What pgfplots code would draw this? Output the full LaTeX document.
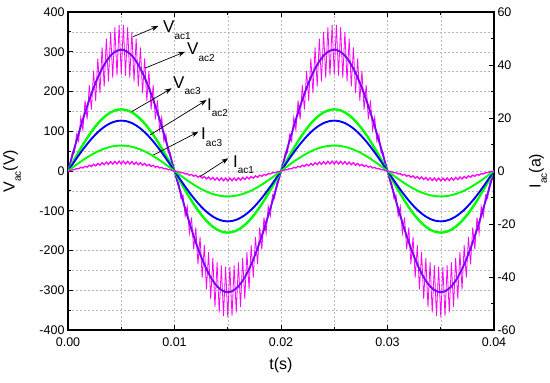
\documentclass[border=0pt]{standalone}
\usepackage{pgfplots}
\pgfplotsset{compat=1.18}
\usepackage{pgfplotstable}
\usepackage{fontspec}
\setmainfont{Liberation Sans}
\usetikzlibrary{arrows.meta}

\definecolor{vmag}{RGB}{255,0,255}
\definecolor{vpur}{RGB}{128,0,255}
\definecolor{vblue}{RGB}{0,0,255}
\definecolor{vgreen}{RGB}{0,255,0}

\pgfplotstableread{
t vac2 vac3 iac2 iac3
0.0000 0 0 0 0
0.0005 47.7 24.2 2.97 1.50
0.0010 94.2 47.9 5.87 2.97
0.0015 138.5 70.4 8.63 4.36
0.0020 179.3 91.1 11.17 5.64
0.0025 215.7 109.6 13.43 6.79
0.0030 246.7 125.4 15.37 7.77
0.0035 271.8 138.1 16.93 8.55
0.0040 290.1 147.4 18.07 9.13
0.0045 301.2 153.1 18.77 9.48
0.0050 305 155 19 9.6
0.0055 301.2 153.1 18.77 9.48
0.0060 290.1 147.4 18.07 9.13
0.0065 271.8 138.1 16.93 8.55
0.0070 246.7 125.4 15.37 7.77
0.0075 215.7 109.6 13.43 6.79
0.0080 179.3 91.1 11.17 5.64
0.0085 138.5 70.4 8.63 4.36
0.0090 94.2 47.9 5.87 2.97
0.0095 47.7 24.2 2.97 1.50
0.0100 0 0 0 0
0.0105 -47.7 -24.2 -2.97 -1.50
0.0110 -94.2 -47.9 -5.87 -2.97
0.0115 -138.5 -70.4 -8.63 -4.36
0.0120 -179.3 -91.1 -11.17 -5.64
0.0125 -215.7 -109.6 -13.43 -6.79
0.0130 -246.7 -125.4 -15.37 -7.77
0.0135 -271.8 -138.1 -16.93 -8.55
0.0140 -290.1 -147.4 -18.07 -9.13
0.0145 -301.2 -153.1 -18.77 -9.48
0.0150 -305 -155 -19 -9.6
0.0155 -301.2 -153.1 -18.77 -9.48
0.0160 -290.1 -147.4 -18.07 -9.13
0.0165 -271.8 -138.1 -16.93 -8.55
0.0170 -246.7 -125.4 -15.37 -7.77
0.0175 -215.7 -109.6 -13.43 -6.79
0.0180 -179.3 -91.1 -11.17 -5.64
0.0185 -138.5 -70.4 -8.63 -4.36
0.0190 -94.2 -47.9 -5.87 -2.97
0.0195 -47.7 -24.2 -2.97 -1.50
0.0200 0 0 0 0
0.0205 47.7 24.2 2.97 1.50
0.0210 94.2 47.9 5.87 2.97
0.0215 138.5 70.4 8.63 4.36
0.0220 179.3 91.1 11.17 5.64
0.0225 215.7 109.6 13.43 6.79
0.0230 246.7 125.4 15.37 7.77
0.0235 271.8 138.1 16.93 8.55
0.0240 290.1 147.4 18.07 9.13
0.0245 301.2 153.1 18.77 9.48
0.0250 305 155 19 9.6
0.0255 301.2 153.1 18.77 9.48
0.0260 290.1 147.4 18.07 9.13
0.0265 271.8 138.1 16.93 8.55
0.0270 246.7 125.4 15.37 7.77
0.0275 215.7 109.6 13.43 6.79
0.0280 179.3 91.1 11.17 5.64
0.0285 138.5 70.4 8.63 4.36
0.0290 94.2 47.9 5.87 2.97
0.0295 47.7 24.2 2.97 1.50
0.0300 0 0 0 0
0.0305 -47.7 -24.2 -2.97 -1.50
0.0310 -94.2 -47.9 -5.87 -2.97
0.0315 -138.5 -70.4 -8.63 -4.36
0.0320 -179.3 -91.1 -11.17 -5.64
0.0325 -215.7 -109.6 -13.43 -6.79
0.0330 -246.7 -125.4 -15.37 -7.77
0.0335 -271.8 -138.1 -16.93 -8.55
0.0340 -290.1 -147.4 -18.07 -9.13
0.0345 -301.2 -153.1 -18.77 -9.48
0.0350 -305 -155 -19 -9.6
0.0355 -301.2 -153.1 -18.77 -9.48
0.0360 -290.1 -147.4 -18.07 -9.13
0.0365 -271.8 -138.1 -16.93 -8.55
0.0370 -246.7 -125.4 -15.37 -7.77
0.0375 -215.7 -109.6 -13.43 -6.79
0.0380 -179.3 -91.1 -11.17 -5.64
0.0385 -138.5 -70.4 -8.63 -4.36
0.0390 -94.2 -47.9 -5.87 -2.97
0.0395 -47.7 -24.2 -2.97 -1.50
0.0400 0 0 0 0
}\smoothtab

\pgfplotstableread{
t vac1 iac1
0.0000 0 0
0.0002 15.2 0.17
0.0004 46.1 0.46
0.0006 45.4 0.51
0.0008 91.5 0.92
0.0010 74.8 0.83
0.0012 135.5 1.36
0.0014 103.0 1.15
0.0016 177.3 1.78
0.0018 129.7 1.45
0.0020 216.3 2.17
0.0022 154.3 1.72
0.0024 251.9 2.53
0.0026 176.4 1.97
0.0028 283.5 2.85
0.0030 195.8 2.18
0.0032 310.7 3.12
0.0034 212.1 2.37
0.0036 333.0 3.35
0.0038 225.0 2.51
0.0040 350.0 3.52
0.0042 234.4 2.62
0.0044 361.5 3.63
0.0046 240.1 2.68
0.0048 367.3 3.69
0.0050 242.0 2.70
0.0052 367.3 3.69
0.0054 240.1 2.68
0.0056 361.5 3.63
0.0058 234.4 2.62
0.0060 350.0 3.52
0.0062 225.0 2.51
0.0064 333.0 3.35
0.0066 212.1 2.37
0.0068 310.7 3.12
0.0070 195.8 2.18
0.0072 283.5 2.85
0.0074 176.4 1.97
0.0076 251.9 2.53
0.0078 154.3 1.72
0.0080 216.3 2.17
0.0082 129.7 1.45
0.0084 177.3 1.78
0.0086 103.0 1.15
0.0088 135.5 1.36
0.0090 74.8 0.83
0.0092 91.5 0.92
0.0094 45.4 0.51
0.0096 46.1 0.46
0.0098 15.2 0.17
0.0100 0 0
0.0102 -23.1 -0.23
0.0104 -30.3 -0.34
0.0106 -69.0 -0.69
0.0108 -60.2 -0.67
0.0110 -113.7 -1.14
0.0112 -89.1 -0.99
0.0114 -156.7 -1.58
0.0116 -116.6 -1.30
0.0118 -197.2 -1.98
0.0120 -142.2 -1.59
0.0122 -234.6 -2.36
0.0124 -165.6 -1.85
0.0126 -268.3 -2.70
0.0128 -186.5 -2.08
0.0130 -297.7 -2.99
0.0132 -204.3 -2.28
0.0134 -322.5 -3.24
0.0136 -219.0 -2.44
0.0138 -342.2 -3.44
0.0140 -230.2 -2.57
0.0142 -356.4 -3.58
0.0144 -237.7 -2.65
0.0146 -365.1 -3.67
0.0148 -241.5 -2.69
0.0150 -368.0 -3.70
0.0152 -241.5 -2.69
0.0154 -365.1 -3.67
0.0156 -237.7 -2.65
0.0158 -356.4 -3.58
0.0160 -230.2 -2.57
0.0162 -342.2 -3.44
0.0164 -219.0 -2.44
0.0166 -322.5 -3.24
0.0168 -204.3 -2.28
0.0170 -297.7 -2.99
0.0172 -186.5 -2.08
0.0174 -268.3 -2.70
0.0176 -165.6 -1.85
0.0178 -234.6 -2.36
0.0180 -142.2 -1.59
0.0182 -197.2 -1.98
0.0184 -116.6 -1.30
0.0186 -156.7 -1.58
0.0188 -89.1 -0.99
0.0190 -113.7 -1.14
0.0192 -60.2 -0.67
0.0194 -69.0 -0.69
0.0196 -30.3 -0.34
0.0198 -23.1 -0.23
0.0200 0 0
0.0202 15.2 0.17
0.0204 46.1 0.46
0.0206 45.4 0.51
0.0208 91.5 0.92
0.0210 74.8 0.83
0.0212 135.5 1.36
0.0214 103.0 1.15
0.0216 177.3 1.78
0.0218 129.7 1.45
0.0220 216.3 2.17
0.0222 154.3 1.72
0.0224 251.9 2.53
0.0226 176.4 1.97
0.0228 283.5 2.85
0.0230 195.8 2.18
0.0232 310.7 3.12
0.0234 212.1 2.37
0.0236 333.0 3.35
0.0238 225.0 2.51
0.0240 350.0 3.52
0.0242 234.4 2.62
0.0244 361.5 3.63
0.0246 240.1 2.68
0.0248 367.3 3.69
0.0250 242.0 2.70
0.0252 367.3 3.69
0.0254 240.1 2.68
0.0256 361.5 3.63
0.0258 234.4 2.62
0.0260 350.0 3.52
0.0262 225.0 2.51
0.0264 333.0 3.35
0.0266 212.1 2.37
0.0268 310.7 3.12
0.0270 195.8 2.18
0.0272 283.5 2.85
0.0274 176.4 1.97
0.0276 251.9 2.53
0.0278 154.3 1.72
0.0280 216.3 2.17
0.0282 129.7 1.45
0.0284 177.3 1.78
0.0286 103.0 1.15
0.0288 135.5 1.36
0.0290 74.8 0.83
0.0292 91.5 0.92
0.0294 45.4 0.51
0.0296 46.1 0.46
0.0298 15.2 0.17
0.0300 0 0
0.0302 -23.1 -0.23
0.0304 -30.3 -0.34
0.0306 -69.0 -0.69
0.0308 -60.2 -0.67
0.0310 -113.7 -1.14
0.0312 -89.1 -0.99
0.0314 -156.7 -1.58
0.0316 -116.6 -1.30
0.0318 -197.2 -1.98
0.0320 -142.2 -1.59
0.0322 -234.6 -2.36
0.0324 -165.6 -1.85
0.0326 -268.3 -2.70
0.0328 -186.5 -2.08
0.0330 -297.7 -2.99
0.0332 -204.3 -2.28
0.0334 -322.5 -3.24
0.0336 -219.0 -2.44
0.0338 -342.2 -3.44
0.0340 -230.2 -2.57
0.0342 -356.4 -3.58
0.0344 -237.7 -2.65
0.0346 -365.1 -3.67
0.0348 -241.5 -2.69
0.0350 -368.0 -3.70
0.0352 -241.5 -2.69
0.0354 -365.1 -3.67
0.0356 -237.7 -2.65
0.0358 -356.4 -3.58
0.0360 -230.2 -2.57
0.0362 -342.2 -3.44
0.0364 -219.0 -2.44
0.0366 -322.5 -3.24
0.0368 -204.3 -2.28
0.0370 -297.7 -2.99
0.0372 -186.5 -2.08
0.0374 -268.3 -2.70
0.0376 -165.6 -1.85
0.0378 -234.6 -2.36
0.0380 -142.2 -1.59
0.0382 -197.2 -1.98
0.0384 -116.6 -1.30
0.0386 -156.7 -1.58
0.0388 -89.1 -0.99
0.0390 -113.7 -1.14
0.0392 -60.2 -0.67
0.0394 -69.0 -0.69
0.0396 -30.3 -0.34
0.0398 -23.1 -0.23
0.0400 0 0
}\rippletab

\pgfplotsset{
  common/.style={
    width=426pt, height=318pt, scale only axis,
    xmin=0, xmax=0.04,
    tick align=inside,
    major tick length=5pt, minor tick length=3pt,
    every tick/.style={black, line width=0.8pt},
    axis line style={black, line width=1.2pt},
    /pgf/number format/assume math mode=true,
    tick label style={font=\fontsize{12.5}{14}\selectfont},
  },
}
\tikzset{lbl/.style={anchor=base west, inner sep=0pt, font=\fontsize{17}{19}\selectfont}}
\newcommand{\sub}[1]{\raisebox{-0.38em}{\fontsize{10}{10}\selectfont #1}}

\begin{document}
\begin{tikzpicture}
\begin{axis}[common,
  ymin=-400, ymax=400,
  ytick={-400,-300,...,400}, minor y tick num=1,
  xtick={0,0.01,0.02,0.03,0.04}, minor x tick num=1,
  ytick pos=left,
  scaled x ticks=false,
  xticklabel style={/pgf/number format/.cd, fixed, fixed zerofill, precision=2, /tikz/yshift=-4pt},
  grid=both,
  major grid style={gray!55, dash pattern=on 2pt off 2pt, line width=0.5pt},
  minor grid style={gray!55, dash pattern=on 2pt off 2pt, line width=0.5pt},
  xlabel={t(s)},
  ylabel={V\sub{ac}(V)},
  xlabel style={font=\fontsize{16}{18}\selectfont, at={(axis description cs:0.5,-0.11)}, anchor=center},
  ylabel style={font=\fontsize{16}{18}\selectfont, at={(axis description cs:-0.1315,0.5)}, anchor=center},
]
\addplot[vmag, line width=0.8pt] table[x=t, y=vac1] {\rippletab};
\addplot[vpur, line width=1.9pt, smooth] table[x=t, y=vac2] {\smoothtab};
\addplot[vgreen, line width=2.4pt, smooth] table[x=t, y=vac3] {\smoothtab};
\path (rel axis cs:0,0) ++(-68pt,-52pt) coordinate (bbsw);
\path (rel axis cs:1,1) ++(56pt,12pt) coordinate (bbne);
\end{axis}
\begin{axis}[common,
  axis x line=none, axis y line*=right,
  ymin=-60, ymax=60,
  ytick={-60,-40,...,60}, minor y tick num=1,
  ylabel={I\sub{ac}(a)},
  ylabel style={font=\fontsize{16}{18}\selectfont, at={(axis description cs:1.1033,0.5)}, anchor=center},
]
\addplot[vblue, line width=1.9pt, smooth] table[x=t, y=iac2] {\smoothtab};
\addplot[vgreen, line width=1.9pt, smooth] table[x=t, y=iac3] {\smoothtab};
\addplot[vmag, line width=1.3pt] table[x=t, y=iac1] {\rippletab};
% annotations
\draw[-{Stealth[length=7pt,width=5pt]}, line width=0.7pt] (axis cs:0.00613,50.7) -- (axis cs:0.00848,54.7);
\node[lbl] at (axis cs:0.00892,52.1) {V\sub{ac1}};
\draw[-{Stealth[length=7pt,width=5pt]}, line width=0.7pt] (axis cs:0.00723,38.8) -- (axis cs:0.01099,45.0);
\node[lbl] at (axis cs:0.01117,43.8) {V\sub{ac2}};
\draw[-{Stealth[length=7pt,width=5pt]}, line width=0.7pt] (axis cs:0.00598,22.4) -- (axis cs:0.00974,31.2);
\node[lbl] at (axis cs:0.00986,31.3) {V\sub{ac3}};
\draw[-{Stealth[length=7pt,width=5pt]}, line width=0.7pt] (axis cs:0.0077,13.6) -- (axis cs:0.01302,26.8);
\node[lbl] at (axis cs:0.01305,23.0) {I\sub{ac2}};
\draw[-{Stealth[length=7pt,width=5pt]}, line width=0.7pt] (axis cs:0.00801,6.0) -- (axis cs:0.01224,14.8);
\node[lbl] at (axis cs:0.01249,11.7) {I\sub{ac3}};
\draw[-{Stealth[length=7pt,width=5pt]}, line width=0.7pt] (axis cs:0.0124,-2.1) -- (axis cs:0.01505,4.8);
\node[lbl] at (axis cs:0.01549,1.5) {I\sub{ac1}};
\end{axis}
\pgfresetboundingbox
\path[use as bounding box] (bbsw) rectangle (bbne);
\end{tikzpicture}
\end{document}
